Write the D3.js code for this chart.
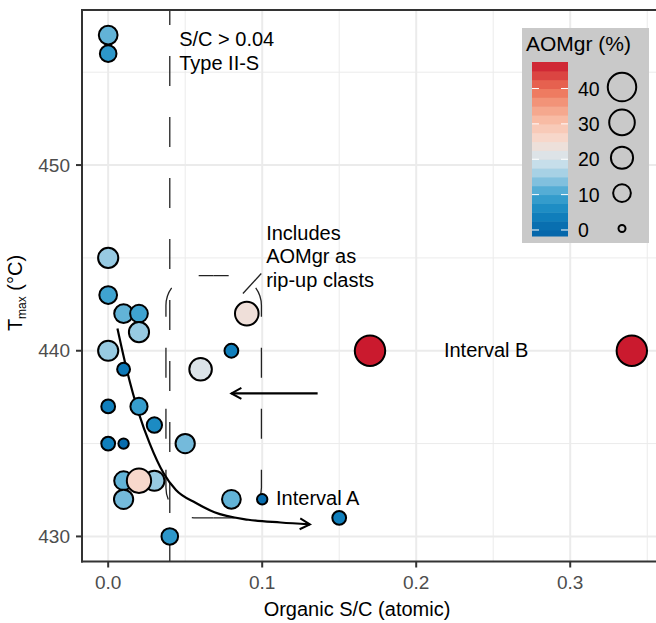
<!DOCTYPE html>
<html><head><meta charset="utf-8">
<script src="https://cdn.jsdelivr.net/npm/d3@7"></script>
<style>
html,body{margin:0;padding:0;background:#fff;}
svg{display:block;font-family:"Liberation Sans",Arial,Helvetica,sans-serif;}
</style></head>
<body><svg id="chart" width="656" height="623"></svg>
<script>
// ---- data ----
const sc   = [0.000,0.000,0.000,0.000,0.010,0.020,0.020,0.000,0.010,0.000,0.020,0.030,0.000,0.010,0.050,0.010,0.030,0.010,0.020,0.040,0.090,0.080,0.060,0.080,0.100,0.150,0.170,0.340];
const tmax = [457,456,445,443,442,442,441,440,439,437,437,436,435,435,435,433,433,432,433,430,442,440,439,432,432,431,440,440];
const aom  = [12,8,15,10,12,10,15,15,3,4,9,6,4,1,13,12,15,13,26,8,24,4,21,12,1,4,47.5,47.5];

const xTicks = [0, 0.1, 0.2, 0.3];
const xTickLabels = ["0.0","0.1","0.2","0.3"];
const xMinor = [0.05, 0.15, 0.25, 0.35];
const yTicks = [430, 440, 450];
const yTickLabels = ["430","440","450"];
const yMinor = [435, 445, 455];
const legendBreaks = [0, 10, 20, 30, 40];
const legendLabels = ["0","10","20","30","40"];
const aomMax = 47.5;

// colour stops
const colorStopVals = [0, 5, 10, 15, 20, 22.5, 25, 30, 35, 40, 47.5];
const colorStopCols = ["#0567AB","#1385C0","#3FA3D0","#97CAE2","#D5E4EC","#E4E2E1","#F6DDD3","#F9C4AF","#F49F83","#EC6F55","#CA1A2E"];

// annotations (data units)
const threshold = 0.04;
const curveSC = [0.006,0.012,0.020,0.027,0.036,0.044,0.057,0.069,0.091,0.112,0.131];
const curveT  = [441.2,439.0,436.6,435.0,433.4,432.5,431.8,431.3,430.9,430.75,430.65];
const arrowSC = [0.136, 0.080];
const arrowT  = [437.7, 437.7];
const boxSC = [0.0375, 0.0995];
const boxT  = [431.0, 444.05];
const leaderSC = [0.0875, 0.0994];
const leaderT  = [443.08, 444.16];
const notes = [
  {sc:0.0461, t:456.4, lines:["S/C > 0.04","Type II-S"]},
  {sc:0.1026, t:445.97, lines:["Includes","AOMgr as","rip-up clasts"]},
  {sc:0.109, t:431.67, lines:["Interval A"]},
  {sc:0.218, t:439.68, lines:["Interval B"]}
];

// ---- layout ----
const svg = d3.select("#chart");
const x = d3.scaleLinear().domain([-0.017, 0.357]).range([82, 658]);
const y = d3.scaleLinear().domain([428.65, 458.35]).range([561.5, 10]);
const color = d3.scaleLinear().domain(colorStopVals).range(colorStopCols).clamp(true);
const size = d3.scaleSqrt().domain([0, aomMax]).range([3.5, 15.2]);

const pl = x.range()[0], pr = x.range()[1], pt = y.range()[1], pb = y.range()[0];

const defs = svg.append("defs");
defs.append("clipPath").attr("id","clip").append("rect")
  .attr("x",pl).attr("y",pt).attr("width",pr-pl).attr("height",pb-pt);
defs.append("marker").attr("id","arr").attr("markerUnits","userSpaceOnUse")
  .attr("orient","auto").attr("markerWidth",12).attr("markerHeight",12)
  .attr("refX",0).attr("refY",0).attr("overflow","visible")
  .append("path").attr("d","M-10,-5.5L0,0L-10,5.5")
  .attr("fill","none").attr("stroke","#000").attr("stroke-width",2);

// gridlines
const grid = svg.append("g").attr("clip-path","url(#clip)");
grid.selectAll(".xm").data(xMinor).join("line")
  .attr("x1",d=>x(d)).attr("x2",d=>x(d)).attr("y1",pt).attr("y2",pb)
  .attr("stroke","#EBEBEB").attr("stroke-width",1);
grid.selectAll(".ym").data(yMinor).join("line")
  .attr("y1",d=>y(d)).attr("y2",d=>y(d)).attr("x1",pl).attr("x2",pr)
  .attr("stroke","#EBEBEB").attr("stroke-width",1);
grid.selectAll(".xM").data(xTicks).join("line")
  .attr("x1",d=>x(d)).attr("x2",d=>x(d)).attr("y1",pt).attr("y2",pb)
  .attr("stroke","#EBEBEB").attr("stroke-width",2);
grid.selectAll(".yM").data(yTicks).join("line")
  .attr("y1",d=>y(d)).attr("y2",d=>y(d)).attr("x1",pl).attr("x2",pr)
  .attr("stroke","#EBEBEB").attr("stroke-width",2);

const plot = svg.append("g").attr("clip-path","url(#clip)");

// threshold dashed line
plot.append("line").attr("x1",x(threshold)).attr("x2",x(threshold))
  .attr("y1",pt).attr("y2",pb).attr("stroke","#222").attr("stroke-width",1.3)
  .attr("stroke-dasharray","30,31").attr("stroke-dashoffset",15);

// rounded dashed box, drawn as two halves from top centre
(function(){
  const x0=x(boxSC[0]), x1=x(boxSC[1]), y0=y(boxT[1]), y1=y(boxT[0]);
  const r=30, cx=(x0+x1)/2;
  const right = `M${cx},${y0}L${x1-r},${y0}A${r},${r} 0 0 1 ${x1},${y0+r}L${x1},${y1-r}A${r},${r} 0 0 1 ${x1-r},${y1}L${cx},${y1}`;
  const left  = `M${cx},${y0}L${x0+r},${y0}A${r},${r} 0 0 0 ${x0},${y0+r}L${x0},${y1-r}A${r},${r} 0 0 0 ${x0+r},${y1}L${cx},${y1}`;
  [right,left].forEach(d=>plot.append("path").attr("d",d).attr("fill","none")
    .attr("stroke","#222").attr("stroke-width",1.3)
    .attr("stroke-dasharray","30,31").attr("stroke-dashoffset",15));
})();

// leader line
plot.append("line").attr("x1",x(leaderSC[0])).attr("y1",y(leaderT[0]))
  .attr("x2",x(leaderSC[1])).attr("y2",y(leaderT[1]))
  .attr("stroke","#222").attr("stroke-width",1.3);

// curve arrow
const curvePts = curveSC.map((v,i)=>[x(v), y(curveT[i])]);
plot.append("path").attr("d", d3.line().curve(d3.curveMonotoneX)(curvePts))
  .attr("fill","none").attr("stroke","#000").attr("stroke-width",2.2)
  .attr("marker-end","url(#arr)");
// horizontal arrow
plot.append("line").attr("x1",x(arrowSC[0])).attr("y1",y(arrowT[0]))
  .attr("x2",x(arrowSC[1])).attr("y2",y(arrowT[1]))
  .attr("stroke","#000").attr("stroke-width",2.2).attr("marker-end","url(#arr)");

// points
plot.selectAll("circle.pt").data(sc.map((v,i)=>({sc:v,t:tmax[i],a:aom[i]}))).join("circle")
  .attr("class","pt")
  .attr("cx",d=>x(d.sc)).attr("cy",d=>y(d.t)).attr("r",d=>size(d.a))
  .attr("fill",d=>color(d.a)).attr("stroke","#000").attr("stroke-width",2);

// annotation text
notes.forEach(n=>{
  const t = svg.append("text").attr("x",x(n.sc)).attr("y",y(n.t))
    .attr("font-size",20).attr("fill","#000");
  n.lines.forEach((l,i)=>t.append("tspan").attr("x",x(n.sc)).attr("dy",i?23.5:0).text(l));
});

// panel border (top) and axes
svg.append("line").attr("x1",pl).attr("x2",pr).attr("y1",pt).attr("y2",pt)
  .attr("stroke","#333").attr("stroke-width",2);
svg.append("line").attr("x1",pl).attr("x2",pl).attr("y1",pt-1).attr("y2",pb+1)
  .attr("stroke","#333").attr("stroke-width",2);
svg.append("line").attr("x1",pl-1).attr("x2",pr).attr("y1",pb).attr("y2",pb)
  .attr("stroke","#333").attr("stroke-width",2);

// ticks
svg.selectAll(".xt").data(xTicks).join("line")
  .attr("x1",d=>x(d)).attr("x2",d=>x(d)).attr("y1",pb).attr("y2",pb+6)
  .attr("stroke","#333").attr("stroke-width",2);
svg.selectAll(".yt").data(yTicks).join("line")
  .attr("y1",d=>y(d)).attr("y2",d=>y(d)).attr("x1",pl-6).attr("x2",pl)
  .attr("stroke","#333").attr("stroke-width",2);
svg.selectAll(".xl").data(xTicks).join("text")
  .attr("x",d=>x(d)).attr("y",pb+27).attr("text-anchor","middle")
  .attr("font-size",19).attr("fill","#4D4D4D").text((d,i)=>xTickLabels[i]);
svg.selectAll(".yl").data(yTicks).join("text")
  .attr("x",pl-12).attr("y",d=>y(d)).attr("dy","0.35em").attr("text-anchor","end")
  .attr("font-size",19).attr("fill","#4D4D4D").text((d,i)=>yTickLabels[i]);

// axis titles
svg.append("text").attr("x",357).attr("y",616).attr("text-anchor","middle")
  .attr("font-size",20).attr("fill","#000").text("Organic S/C (atomic)");
const yt = svg.append("text").attr("transform","translate(22,293) rotate(-90)")
  .attr("text-anchor","middle").attr("font-size",20).attr("fill","#000");
yt.append("tspan").text("T");
yt.append("tspan").attr("dy",4).attr("font-size",12).text("max");
yt.append("tspan").attr("dy",-4).text(" (°C)");

// legend
const lg = svg.append("g");
lg.append("rect").attr("x",522).attr("y",28).attr("width",127).attr("height",215).attr("fill","#C9C9C9");
lg.append("text").attr("x",526).attr("y",51).attr("font-size",21).attr("fill","#000").text("AOMgr (%)");
const barY = d3.scaleLinear().domain([-1.7, aomMax]).range([236, 62]);
const bands = d3.range(-1, 19).map(i=>[Math.max(-1.7, i*2.5), (i+1)*2.5]);
lg.selectAll("rect.band").data(bands).join("rect").attr("class","band")
  .attr("x",532).attr("width",36)
  .attr("y",d=>barY(d[1])).attr("height",d=>barY(d[0])-barY(d[1])+0.5)
  .attr("fill",d=>color(Math.max(0,(d[0]+d[1])/2)));
lg.selectAll(".lt1").data(legendBreaks).join("line")
  .attr("x1",532).attr("x2",539).attr("y1",d=>barY(d)).attr("y2",d=>barY(d))
  .attr("stroke","#fff").attr("stroke-width",1);
lg.selectAll(".lt2").data(legendBreaks).join("line")
  .attr("x1",561).attr("x2",568).attr("y1",d=>barY(d)).attr("y2",d=>barY(d))
  .attr("stroke","#fff").attr("stroke-width",1);
lg.selectAll(".ll").data(legendBreaks).join("text")
  .attr("x",578).attr("y",d=>barY(d)).attr("dy","0.36em")
  .attr("font-size",19.5).attr("fill","#000").text((d,i)=>legendLabels[i]);
lg.selectAll(".lc").data(legendBreaks).join("circle")
  .attr("cx",622).attr("cy",d=>barY(d)-1.5).attr("r",d=>size(d))
  .attr("fill","none").attr("stroke","#000").attr("stroke-width",2);
</script></body></html>
